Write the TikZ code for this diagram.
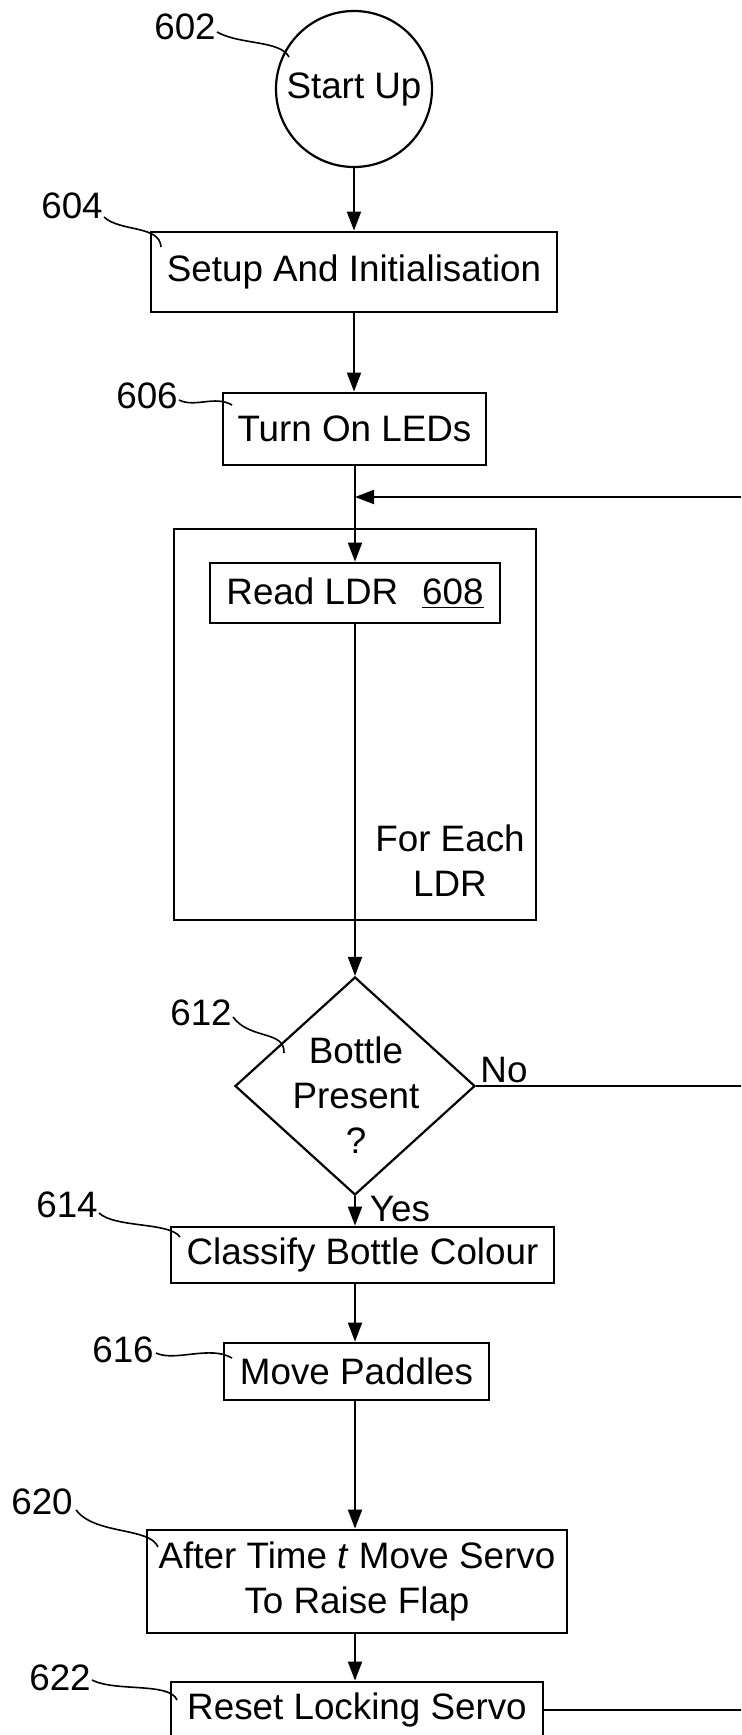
\documentclass[tikz,border=0pt]{standalone}
\usepackage{fontspec}
\setmainfont{Liberation Sans}
\usetikzlibrary{arrows.meta,shapes.geometric}
\begin{document}
\begin{tikzpicture}[x=0.5pt,y=-0.5pt,
  every node/.style={font=\fontsize{18.4}{22.5}\selectfont},
  box/.style={draw,line width=1.4pt,inner sep=0pt,rectangle},
  arr/.style={line width=1pt,-{Triangle[length=9.5pt,width=7pt]}},
  ln/.style={line width=1pt},
  lead/.style={line width=0.8pt},
  lab/.style={inner sep=0pt}]
\useasboundingbox (0,0) rectangle (741,1735);
\clip (0,0) rectangle (741,1735);
\fill[white] (0,0) rectangle (741,1735);

% process nodes
\node[circle,draw,line width=1.1pt,minimum size=78pt,inner sep=0pt] (start) at (354,89) {Start Up};
\node[box,minimum width=203pt,minimum height=40pt] (setup) at (354,272) {Setup And Initialisation};
\node[box,minimum width=131.5pt,minimum height=36pt] (leds) at (354.5,429) {Turn On LEDs};
\node[box,minimum width=181pt,minimum height=195.5pt] (loop) at (355,724.5) {};
\node[box,minimum width=145pt,minimum height=30pt] (read) at (355,593) {Read LDR\hspace{0.65em}\underline{608}};
\node[lab,align=center] (each) at (450,861) {For Each\\LDR};
\node[diamond,draw,line width=1.1pt,minimum width=120pt,minimum height=109pt,inner sep=0pt] (diam) at (355,1086) {};
\node[lab,align=center] (q) at (356,1095) {Bottle\\Present\\?};
\node[lab] (no) at (504,1070) {No};
\node[lab] (yes) at (400,1209) {Yes};
\node[box,minimum width=191.5pt,minimum height=28pt] (classify) at (362.5,1255) {Classify Bottle Colour};
\node[box,minimum width=132.5pt,minimum height=28.5pt] (paddles) at (356.5,1371.5) {Move Paddles};
\node[box,minimum width=210pt,minimum height=51.5pt,align=center] (servo) at (357,1581.5) {After Time \textit{t} Move Servo\\To Raise Flap};
\node[box,minimum width=186pt,minimum height=28pt] (reset) at (357,1710) {Reset Locking Servo};

% connectors
\coordinate (fb) at (745,497);
\coordinate (noR) at (745,1086);
\draw[arr] (start.south) -- (start.south |- setup.north);
\draw[arr] (setup.south) -- (setup.south |- leds.north);
\draw[arr] (read.north |- leds.south) -- (read.north);
\draw[arr] (fb) -- (fb -| read.north);
\draw[arr] (diam.north |- read.south) -- (diam.north);
\draw[ln] (diam.east) -- (noR);
\draw[arr] (diam.south) -- (diam.south |- classify.north);
\draw[arr] (diam.south |- classify.south) -- (diam.south |- paddles.north);
\draw[arr] (diam.south |- paddles.south) -- (diam.south |- servo.north);
\draw[arr] (diam.south |- servo.south) -- (diam.south |- reset.north);
\draw[ln] (reset.east) -- (reset.east -| noR);

% reference labels
\node[lab] (l602) at (185,27) {602};
\draw[lead] (217,32) .. controls (240,45) and (280,40) .. (289,57);
\node[lab] (l604) at (72,206) {604};
\draw[lead] (104,217) .. controls (120,232) and (160,225) .. (161,247);
\node[lab] (l606) at (147,396) {606};
\draw[lead] (179,400) .. controls (195,408) and (215,395) .. (232,405);
\node[lab] (l612) at (201,1013) {612};
\draw[lead] (233,1017) .. controls (250,1040) and (285,1030) .. (284,1053);
\node[lab] (l614) at (67,1205) {614};
\draw[lead] (99,1213) .. controls (115,1228) and (170,1222) .. (180,1237);
\node[lab] (l616) at (123,1350) {616};
\draw[lead] (156,1353) .. controls (175,1362) and (210,1345) .. (232,1358);
\node[lab] (l620) at (42,1502) {620};
\draw[lead] (76,1510) .. controls (95,1535) and (150,1527) .. (158,1547);
\node[lab] (l622) at (60,1678) {622};
\draw[lead] (92,1680) .. controls (115,1692) and (170,1682) .. (177,1700);
\end{tikzpicture}
\end{document}
